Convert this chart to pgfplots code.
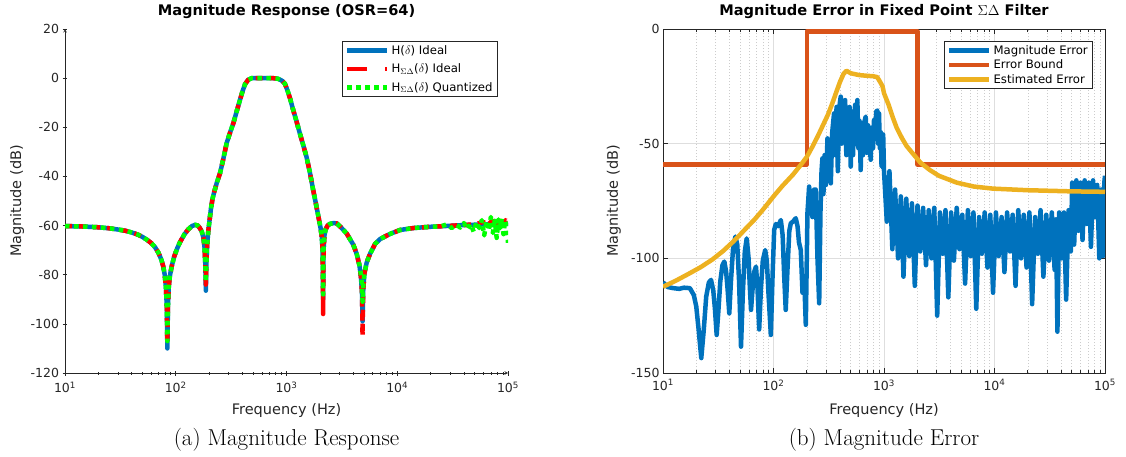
\documentclass[border=0pt]{standalone}
\usepackage{fontspec}
\newfontfamily\dejavu{DejaVu Sans}
\usepackage{pgfplots}
\pgfplotsset{compat=1.18}
\definecolor{mblue}{rgb}{0,0.447,0.741}
\definecolor{morange}{rgb}{0.85,0.325,0.098}
\definecolor{myellow}{rgb}{0.929,0.694,0.125}
\definecolor{axiscol}{rgb}{0.15,0.15,0.15}
\definecolor{gridcol}{rgb}{0.87,0.87,0.87}
\definecolor{minorgridcol}{rgb}{0.80,0.80,0.80}
\begin{document}
\begin{tikzpicture}
\useasboundingbox (0pt,0pt) rectangle (1126pt,456pt);
% ---------------- left ----------------
\begin{axis}[scale only axis, at={(65pt,83pt)}, anchor=south west, width=443pt, height=344pt,
  xmode=log, xmin=10, xmax=100000,
  xtick={10,100,1000,10000,100000},
  xticklabels={10\textsuperscript{1},10\textsuperscript{2},10\textsuperscript{3},10\textsuperscript{4},10\textsuperscript{5}},
  minor xtick={20,30,40,50,60,70,80,90,200,300,400,500,600,700,800,900,2000,3000,4000,5000,6000,7000,8000,9000,20000,30000,40000,50000,60000,70000,80000,90000},
  tick label style={font=\dejavu\fontsize{12.5}{15}\selectfont, text=axiscol},
  xticklabel style={yshift=-3pt},
  label style={font=\dejavu\fontsize{14.5}{17}\selectfont, text=axiscol},
  title style={font=\dejavu\bfseries\fontsize{14.6}{17}\selectfont, at={(axis description cs:0.5,1.033)}, anchor=center},
  major tick length=5pt, minor tick length=3pt,
  tick style={axiscol, line width=0.6pt},
  axis line style={axiscol, line width=0.6pt, -},
  legend cell align=left,
  legend image code/.code={\draw[#1] (0pt,0pt) -- (40pt,0pt);},
  legend style={font=\dejavu\fontsize{11.7}{13}\selectfont, draw=axiscol, line width=0.6pt, fill=white, inner xsep=3pt, inner ysep=2pt, row sep=4pt, anchor=north east, at={(0.977,0.965)}},
  xlabel={Frequency (Hz)},
  ylabel={Magnitude (dB)},
  x label style={at={(axis description cs:0.5,-0.1076)}, anchor=center},
  y label style={at={(axis description cs:-0.108,0.5)}, anchor=center},
  ymin=-120, ymax=20, ytick={-120,-100,-80,-60,-40,-20,0,20},
  yticklabels={-120,-100,-80,-60,-40,-20,0,20},
  axis x line=bottom, axis y line=left,
  title={Magnitude Response (OSR=64)}]
\addplot[mblue, line width=4.5pt, line join=round] coordinates {
(10,-60.2) (15,-60.4) (20,-60.7) (25,-61.1) (30,-61.6) (35,-62.1) (40,-62.8) (45,-63.6) (50,-64.6) (55,-65.8) (60,-67.1) (65,-68.8) (70,-71.2) (74,-73.8) (77,-76.5) (79.5,-80) (81.5,-85) (83,-93) (84,-110) (85,-93) (86.5,-85) (88.5,-80.5) (92,-76.5) (97,-72.5) (103,-69.3) (110,-66.5) (120,-63.5) (130,-61.5) (140,-60.2) (150,-59.7) (158,-60) (165,-61) (172,-62.5) (178,-65) (182,-69) (185,-76) (187,-86.5) (189,-76) (192,-68) (197,-62) (203,-57) (208,-53) (215,-49) (222,-46.5) (235,-42.5) (251,-38.7) (270,-32.5) (288,-26.5) (310,-22) (331,-18.4) (355,-13.5) (380,-8.9) (400,-5.5) (422,-2.5) (450,-0.7) (485,0) (550,0) (650,0) (750,0) (830,-0.2) (873,-0.6) (920,-1.2) (968,-2.3) (1030,-5.5) (1080,-8.5) (1150,-13) (1230,-17.5) (1320,-22.5) (1410,-27) (1515,-32) (1620,-38) (1740,-45.5) (1850,-51.5) (1935,-56) (2030,-61) (2080,-64.5) (2120,-70) (2140,-90) (2160,-70) (2200,-64) (2260,-61.5) (2350,-60) (2470,-59.3) (2650,-59) (2840,-59.1) (3100,-60.7) (3490,-63.2) (4010,-67.8) (4300,-71.5) (4550,-76) (4700,-81) (4800,-87) (4860,-99) (4920,-87) (5050,-79.5) (5300,-75) (5680,-71.5) (6300,-67.5) (6990,-65.5) (8500,-63.5) (10590,-61.8) (14000,-61) (19800,-60.5) (30000,-60.1) (39300,-59.8) (55000,-59.6) (70000,-59.4) (100000,-59.3)};
\addlegendentry{H($\delta$) Ideal}
\addplot[red, line width=4.5pt, dash pattern=on 7pt off 7pt, line join=round, legend image post style={dash pattern=on 20pt off 18pt}] coordinates {
(10,-60.2) (15,-60.4) (20,-60.7) (25,-61.1) (30,-61.6) (35,-62.1) (40,-62.8) (45,-63.6) (50,-64.6) (55,-65.8) (60,-67.1) (65,-68.8) (70,-71.2) (74,-73.8) (77,-76.5) (79.5,-80) (81.5,-85) (83,-93) (84,-108) (85,-93) (86.5,-85) (88.5,-80.5) (92,-76.5) (97,-72.5) (103,-69.3) (110,-66.5) (120,-63.5) (130,-61.5) (140,-60.2) (150,-59.7) (158,-60) (165,-61) (172,-62.5) (178,-65) (182,-69) (185,-76) (187,-84) (189,-76) (192,-68) (197,-62) (203,-57) (208,-53) (215,-49) (222,-46.5) (235,-42.5) (251,-38.7) (270,-32.5) (288,-26.5) (310,-22) (331,-18.4) (355,-13.5) (380,-8.9) (400,-5.5) (422,-2.5) (450,-0.7) (485,0) (550,0) (650,0) (750,0) (830,-0.2) (873,-0.6) (920,-1.2) (968,-2.3) (1030,-5.5) (1080,-8.5) (1150,-13) (1230,-17.5) (1320,-22.5) (1410,-27) (1515,-32) (1620,-38) (1740,-45.5) (1850,-51.5) (1935,-56) (2030,-61) (2080,-64.5) (2120,-70) (2140,-96) (2160,-70) (2200,-64) (2260,-61.5) (2350,-60) (2470,-59.3) (2650,-59) (2840,-59.1) (3100,-60.7) (3490,-63.2) (4010,-67.8) (4300,-71.5) (4550,-76) (4700,-81) (4800,-87) (4860,-105) (4920,-87) (5050,-79.5) (5300,-75) (5680,-71.5) (6300,-67.5) (6990,-65.5) (8500,-63.5) (10590,-61.8) (14000,-61) (19800,-60.5) (30000,-60.1) (39300,-59.8) (50000,-59.5) (60000,-58.5) (65000,-60) (72000,-58) (78000,-61.5) (85000,-58.5) (90000,-60.5) (95000,-57.8) (100000,-59)};
\addlegendentry{H$_{\Sigma\Delta}$($\delta$) Ideal}
\addplot[green, line width=4.5pt, dash pattern=on 4.5pt off 4.5pt, line cap=butt, line join=round] coordinates {
(10,-60.2) (15,-60.4) (20,-60.7) (25,-61.1) (30,-61.6) (35,-62.1) (40,-62.8) (45,-63.6) (50,-64.6) (55,-65.8) (60,-67.1) (65,-68.8) (70,-71.2) (74,-73.8) (77,-76.5) (79.5,-80) (81.5,-85) (83,-93) (84,-107) (85,-93) (86.5,-85) (88.5,-80.5) (92,-76.5) (97,-72.5) (103,-69.3) (110,-66.5) (120,-63.5) (130,-61.5) (140,-60.2) (150,-59.7) (158,-60) (165,-61) (172,-62.5) (178,-65) (182,-69) (185,-76) (187,-83) (189,-76) (192,-68) (197,-62) (203,-57) (208,-53) (215,-49) (222,-46.5) (235,-42.5) (251,-38.7) (270,-32.5) (288,-26.5) (310,-22) (331,-18.4) (355,-13.5) (380,-8.9) (400,-5.5) (422,-2.5) (450,-0.7) (485,0) (550,0) (650,0) (750,0) (830,-0.2) (873,-0.6) (920,-1.2) (968,-2.3) (1030,-5.5) (1080,-8.5) (1150,-13) (1230,-17.5) (1320,-22.5) (1410,-27) (1515,-32) (1620,-38) (1740,-45.5) (1850,-51.5) (1935,-56) (2030,-61) (2080,-64.5) (2120,-70) (2140,-88) (2160,-70) (2200,-64) (2260,-61.5) (2350,-60) (2470,-59.3) (2650,-59) (2840,-59.1) (3100,-60.7) (3490,-63.2) (4010,-67.8) (4300,-71.5) (4550,-76) (4700,-80) (4800,-84) (4860,-91) (4920,-85) (5050,-79.5) (5300,-75) (5680,-71.5) (6300,-67.5) (6990,-65.5) (8500,-63.5) (10590,-61.8) (14000,-61) (19800,-60.5) (25000,-60.3) (28000,-59.5) (31000,-61) (34000,-59.6) (37000,-60.8) (40000,-59) (43000,-61.5) (46000,-59.3) (49000,-62.5) (52000,-58.5) (55000,-61) (58000,-57.8) (61000,-64) (64000,-58) (67000,-62) (70000,-56.5) (73000,-63) (76000,-58) (79000,-65) (82000,-57.5) (85000,-61) (88000,-57) (91000,-63.5) (94000,-58) (97000,-60) (100000,-67)};
\addlegendentry{H$_{\Sigma\Delta}$($\delta$) Quantized}
\end{axis}
% ---------------- right ----------------
\begin{axis}[scale only axis, at={(663pt,83pt)}, anchor=south west, width=442pt, height=344pt,
  xmode=log, xmin=10, xmax=100000,
  xtick={10,100,1000,10000,100000},
  xticklabels={10\textsuperscript{1},10\textsuperscript{2},10\textsuperscript{3},10\textsuperscript{4},10\textsuperscript{5}},
  minor xtick={20,30,40,50,60,70,80,90,200,300,400,500,600,700,800,900,2000,3000,4000,5000,6000,7000,8000,9000,20000,30000,40000,50000,60000,70000,80000,90000},
  tick label style={font=\dejavu\fontsize{12.5}{15}\selectfont, text=axiscol},
  xticklabel style={yshift=-3pt},
  label style={font=\dejavu\fontsize{14.5}{17}\selectfont, text=axiscol},
  title style={font=\dejavu\bfseries\fontsize{14.6}{17}\selectfont, at={(axis description cs:0.5,1.033)}, anchor=center},
  major tick length=5pt, minor tick length=3pt,
  tick style={axiscol, line width=0.6pt},
  axis line style={axiscol, line width=0.6pt},
  legend cell align=left,
  legend image code/.code={\draw[#1] (0pt,0pt) -- (40pt,0pt);},
  legend style={font=\dejavu\fontsize{11.7}{13}\selectfont, draw=axiscol, line width=0.6pt, fill=white, inner xsep=3pt, inner ysep=2pt, anchor=north east, at={(0.973,0.965)}},
  xlabel={Frequency (Hz)},
  ylabel={Magnitude (dB)},
  x label style={at={(axis description cs:0.5,-0.1076)}, anchor=center},
  y label style={at={(axis description cs:-0.111,0.5)}, anchor=center},
  ymin=-150, ymax=0, ytick={-150,-100,-50,0}, yticklabels={-150,-100,-50,0},
  grid=both,
  major grid style={gridcol, line width=0.6pt},
  minor grid style={minorgridcol, line width=0.5pt, dash pattern=on 0.7pt off 2.3pt},
  title={Magnitude Error in Fixed Point \mdseries$\Sigma\Delta$\bfseries{} Filter}]
\addplot[mblue, line width=4.5pt, line join=round] coordinates {
(10,-110.4) (11,-112.5) (12.4,-113) (14,-113.3) (15.5,-112.8) (17.5,-113) (19,-116) (20,-121) (21,-131) (22.2,-143.5) (23.4,-131) (24.6,-116.7) (26,-110.5) (27.2,-109.4) (28.5,-114) (29.5,-122) (30.6,-133.4) (31.8,-122) (33,-110) (34.5,-103) (35.9,-101.4) (37.3,-106) (38.5,-114) (39.8,-124) (41.2,-110) (43,-96) (45.2,-90.5) (47,-94) (48.8,-110) (50.8,-138.5) (52.8,-115) (55,-97) (57.2,-91.3) (59.5,-100) (61,-112) (62.6,-122.5) (64.5,-114) (66.8,-106) (69.4,-103.6) (71.5,-112) (74.2,-131) (77,-113) (80,-101) (84.1,-96.4) (87,-101) (90,-115) (94.6,-133.4) (98,-108) (101.4,-87.6) (105,-85) (110,-86) (116.5,-83.3) (121,-90) (125,-108) (129,-122.5) (134,-104) (139,-88) (143.5,-84.7) (150,-84) (159,-82.5) (165,-86) (170,-93) (176.6,-96.4) (183,-115) (190,-110) (196,-129) (203,-80) (210,-68.7) (217,-75) (225,-82) (233,-70) (241,-70) (250,-100) (259,-119.6) (266,-80) (272,-62) (277,-56.4) (283,-72) (290,-55) (298,-68) (308,-47.7) (318,-60) (330,-67.3) (340,-45) (353,-36.8) (362,-55) (372,-34) (382,-62) (392,-36) (399,-32) (406,-29.5) (414,-50) (424,-34) (435,-47) (445,-31) (456,-55) (467,-35.3) (478,-50) (489,-34) (500,-60) (512,-36) (524,-55) (536,-39.7) (548,-33) (561,-50) (574,-31) (587,-52) (600,-40) (615,-61.5) (630,-42) (645,-55) (660,-41) (683,-38.2) (700,-54) (718,-42) (738,-49) (758,-57) (775,-43) (795,-52) (812,-39.7) (830,-47) (850,-36) (870,-35.5) (885,-50) (901,-36.8) (918,-52) (935,-45) (950,-60) (966,-58.5) (983,-46) (1000,-62)
(1060,-84) (1120,-62) (1190,-96) (1260,-70) (1340,-100) (1420,-73) (1500,-108) (1590,-74) (1690,-99) (1790,-76) (1900,-112) (2010,-77) (2130,-97) (2260,-78) (2400,-103) (2540,-79) (2690,-100) (2850,-78) (3030,-125) (3210,-80) (3400,-98) (3600,-79) (3820,-117) (4050,-80) (4290,-101) (4550,-78) (4820,-96) (5110,-81) (5420,-111) (5740,-79) (6090,-99) (6450,-80) (6840,-122) (7250,-82) (7690,-98) (8150,-80) (8640,-104) (9160,-81) (9700,-115) (10300,-80) (10900,-99) (11600,-82) (12300,-106) (13000,-80) (13800,-97) (14600,-81) (15500,-112) (16400,-79) (17400,-100) (18400,-81) (19500,-104) (20700,-80) (21900,-120) (23300,-82) (24700,-98) (26100,-79) (27700,-108) (29400,-81) (31100,-101) (33000,-80) (35000,-105) (36000,-83) (37100,-132) (38500,-80) (40500,-100) (42500,-80) (44500,-118) (46800,-79) (49000,-97) (50500,-67) (52600,-94) (55000,-66) (57500,-88) (60000,-67) (62600,-92) (65500,-66) (68500,-85) (71500,-67) (74600,-95) (78000,-66) (81500,-82) (85000,-68) (88800,-100) (92500,-70) (96000,-99) (98500,-67) (100000,-64)};
\addlegendentry{Magnitude Error}
\addplot[morange, line width=4.5pt, line join=round] coordinates {
(10,-59) (200,-59) (200,-1) (2000,-1) (2000,-59) (100000,-59)};
\addlegendentry{Error Bound}
\addplot[myellow, line width=4.5pt, line join=round] coordinates {
(10,-112.4) (13,-109.8) (17,-106.8) (22,-103.8) (28,-100.5) (35,-96.8) (43,-92.8) (50,-89.6) (58,-86.3) (67,-83.2) (78,-79.5) (90,-75.8) (100,-73) (120,-68.5) (150,-63.5) (175,-59.5) (200,-55.8) (224,-51.5) (250,-47) (280,-42) (310,-37.5) (340,-32.5) (370,-27.5) (400,-23) (430,-19.6) (457,-18.2) (500,-19.3) (597,-20.1) (700,-20.4) (800,-20.6) (869,-21) (920,-23) (970,-25) (1000,-28) (1100,-33) (1200,-38.5) (1300,-43) (1450,-47.5) (1600,-51) (1800,-54) (2140,-58.3) (2600,-61.5) (3140,-64) (4560,-67) (6500,-68.7) (9670,-69.6) (20000,-70.3) (50000,-70.8) (100000,-71)};
\addlegendentry{Estimated Error}
\end{axis}
\node[font=\fontsize{23}{27}\selectfont, anchor=base] at (286.5pt,11pt) {(a) Magnitude Response};
\node[font=\fontsize{23}{27}\selectfont, anchor=base] at (884pt,11pt) {(b) Magnitude Error};
\end{tikzpicture}
\end{document}
